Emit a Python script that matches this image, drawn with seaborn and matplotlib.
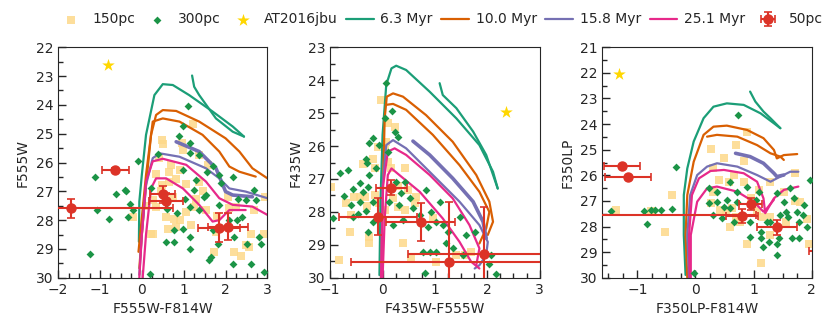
#!/usr/bin/env python3
"""CMDs of the AT2016jbu environment - three HST colour-magnitude panels"""
import matplotlib
matplotlib.use("Agg")
import numpy as np
import pandas as pd
import matplotlib.pyplot as plt
import seaborn as sns
from matplotlib.ticker import MultipleLocator

# ---- colours ----
c_150 = "#fdd98a"
c_300 = "#1b9446"
c_star = "#ffd700"
c_red = "#dc3327"
iso_pal = sns.color_palette("Dark2", 4)
ages = ["6.3 Myr", "10.0 Myr", "15.8 Myr", "25.1 Myr"]

# ---- panel 1: F555W-F814W vs F555W ----
p1_150_x = [0.49, 0.50, 0.96, 1.23, 0.70, 0.66, 0.90, 0.82, 1.06, 0.66, 0.34, 0.49, 1.36, 1.57,
            0.98, -0.21, 0.26, 0.34, 0.58, 0.78, 0.62, 0.82, 0.90, 0.22, 1.06, 1.25, 1.30, 1.18,
            1.53, 1.77, 1.73, 2.21, 2.37, 2.56, 2.60, 2.92, 2.68, 2.05, 2.25, 2.07, 1.37, 2.49,
            0.26, 0.45, 0.75, 0.40, 1.45, 2.95, 1.80, 0.10]
p1_150_y = [25.22, 25.37, 25.34, 24.65, 26.10, 26.33, 26.27, 26.56, 26.73, 26.67, 26.41, 26.79,
            25.75, 26.10, 25.57, 27.89, 27.31, 27.54, 27.89, 27.95, 28.30, 28.24, 28.00, 28.47,
            27.72, 27.54, 27.25, 28.18, 27.66, 28.41, 29.11, 29.11, 29.23, 28.93, 28.47, 28.47,
            27.66, 27.20, 27.54, 27.57, 26.67, 28.88, 28.47, 27.00, 27.20, 25.85, 27.00, 27.20,
            27.85, 27.50]
p1_300_x = [1.11, 0.98, 0.88, 1.16, 0.38, 1.15, 1.37, -0.10, 1.69, 0.98, 1.56, 1.85, 1.89, 2.17,
            -0.40, 0.22, 1.30, 1.49, 2.68, 2.29, 2.49, 2.72, -0.29, -0.20, 1.02, 1.14, 1.37, 1.53,
            1.25, 1.85, 2.09, 2.28, 0.78, 0.98, 1.14, 0.58, 0.78, 1.14, 1.65, 1.83, 2.21, 2.52,
            2.80, 2.84, 2.60, 2.92, 0.20, 1.61, -1.13, -0.61, -0.39, -1.07, -0.79, -0.33, -1.25,
            2.17, 0.60, 0.85, 1.70, 2.40]
p1_300_y = [24.03, 24.74, 25.09, 25.34, 25.69, 25.67, 25.75, 25.94, 26.12, 26.27, 26.33, 26.44,
            26.71, 26.50, 26.96, 26.90, 26.62, 27.20, 26.94, 27.25, 27.29, 27.31, 27.43, 27.66,
            27.25, 27.54, 27.66, 27.14, 26.96, 27.49, 28.00, 28.00, 28.36, 28.30, 28.59, 28.76,
            28.76, 28.99, 29.28, 28.82, 28.59, 28.82, 28.59, 28.82, 29.51, 29.81, 29.88, 29.40,
            26.50, 27.11, 26.99, 27.64, 27.97, 27.89, 29.17, 29.51, 27.60, 27.75, 28.35, 27.90]
p1_star = (-0.80, 22.60)
p1_red_x = [-1.70, -0.63, 0.50, 0.58, 1.85, 2.05]
p1_red_y = [27.59, 26.26, 27.10, 27.32, 28.26, 28.23]
p1_red_xe = [2.44, 0.32, 0.30, 0.40, 0.50, 0.48]
p1_red_ye = [0.32, 0.08, 0.29, 0.25, 0.49, 0.46]
p1_iso = [
    [[(-0.07, 28.75), (-0.06, 27.36), (0.0, 26.43), (0.10, 25.04), (0.30, 23.66), (0.50, 23.28),
      (0.74, 23.31), (1.13, 23.66), (1.69, 24.23), (2.17, 24.75), (2.44, 25.10)],
     [(2.44, 25.10), (2.17, 24.93), (1.77, 24.47), (1.37, 23.66), (1.25, 23.37), (1.20, 22.98)]],
    [[(-0.06, 29.67), (0.0, 28.50), (0.10, 26.78), (0.22, 25.04), (0.34, 24.35), (0.50, 24.18),
      (0.82, 24.21), (1.37, 24.58), (2.00, 25.16), (2.33, 25.62), (2.64, 26.20), (3.00, 26.55)],
     [(-0.08, 29.1), (0.10, 26.43), (0.26, 24.58), (0.50, 24.47), (0.90, 24.58), (1.45, 25.04),
      (1.85, 25.62), (2.09, 26.14), (2.33, 26.32), (2.72, 26.49)]],
    [[(-0.06, 29.90), (0.0, 28.50), (0.10, 26.78), (0.26, 25.85), (0.42, 25.68), (0.90, 25.80),
      (1.53, 26.20), (1.85, 26.55), (2.09, 26.90), (2.48, 27.01), (3.00, 27.24)],
     [(0.82, 25.28), (1.37, 25.62), (1.77, 26.20), (2.00, 27.01), (2.17, 27.13), (2.64, 27.19)]],
    [[(-0.06, 30.0), (0.0, 28.50), (0.10, 26.66), (0.26, 25.96), (0.50, 25.87), (1.06, 26.08),
      (1.53, 26.66), (1.85, 27.24), (2.17, 27.47), (2.64, 27.53), (3.00, 27.82)],
     [(0.02, 30.0), (0.10, 28.50), (0.22, 26.90), (0.34, 26.55), (0.58, 26.55), (0.98, 26.90),
      (1.37, 27.47), (1.69, 28.05), (1.85, 28.00), (2.09, 27.65), (2.48, 27.65)]],
]

# ---- panel 2: F435W-F555W vs F435W ----
p2_150_x = [-0.03, 0.10, 0.23, 0.07, -0.09, 0.04, 0.10, -0.18, -0.15, -0.38, 0.17, 0.42, -0.69,
            -0.54, -0.44, -0.34, -0.98, -0.30, -0.15, -0.06, 0.20, 0.29, 0.42, 0.61, 0.48, 0.64,
            0.96, -0.60, -0.63, -0.25, -0.25, 0.39, -0.83, 0.55, 1.03, 1.41, 1.57, 1.69, 0.30,
            0.05]
p2_150_y = [24.60, 25.31, 25.41, 25.87, 26.02, 26.12, 26.48, 26.39, 26.68, 26.56, 26.68, 26.68,
            27.74, 27.54, 27.54, 27.54, 27.24, 27.81, 27.49, 27.74, 27.59, 27.84, 27.94, 27.74,
            27.34, 27.54, 28.20, 28.10, 28.60, 28.75, 28.96, 28.96, 29.46, 29.41, 29.51, 29.31,
            29.31, 29.21, 27.20, 27.95]
p2_300_x = [0.07, 0.04, 0.18, 0.23, -0.18, -0.26, -0.06, 0.29, 0.10, -0.32, -0.30, -0.25, -0.12,
            -0.66, -0.81, -0.73, -0.57, -0.44, -0.38, -0.28, -0.18, -0.44, -0.60, -0.47, -0.31,
            -0.94, -0.57, -0.28, -0.18, 0.26, 0.42, 0.36, 0.13, 0.32, 0.52, 0.58, 0.20, 0.39,
            0.71, 0.87, 1.03, 1.15, 0.83, 1.09, 0.93, 1.25, 0.77, 0.90, 1.03, 1.22, 1.34, 1.54,
            1.60, 1.47, 1.76, 2.04, 2.07, 0.82, 2.17]
p2_300_y = [24.09, 25.16, 24.94, 25.58, 25.75, 25.92, 25.97, 25.72, 26.17, 26.39, 26.53, 26.88,
            26.68, 26.73, 26.83, 27.51, 27.29, 27.13, 27.39, 27.23, 27.69, 27.69, 27.79, 28.05,
            27.98, 28.18, 28.15, 28.60, 28.30, 27.08, 27.08, 27.44, 27.69, 27.79, 27.59, 27.89,
            28.40, 28.25, 28.10, 28.45, 28.30, 28.40, 27.34, 27.69, 27.99, 28.60, 29.21, 29.21,
            29.21, 28.96, 29.11, 29.31, 28.70, 28.15, 28.60, 29.57, 29.31, 29.87, 29.90]
p2_star = (2.36, 24.96)
p2_red_x = [0.17, -0.09, 0.73, 1.27, 1.93]
p2_red_y = [27.26, 28.15, 28.30, 29.51, 29.28]
p2_red_xe = [0.29, 0.75, 0.66, 1.88, 1.45]
p2_red_ye = [0.22, 0.56, 0.58, 1.80, 1.42]
p2_iso = [
    [[(-0.06, 29.92), (-0.04, 27.69), (0.0, 25.66), (0.07, 24.14), (0.17, 23.64), (0.26, 23.56),
      (0.45, 23.69), (0.90, 24.35), (1.41, 25.16), (1.85, 25.97), (2.11, 26.78), (2.20, 27.29)],
     [(1.09, 24.09), (1.15, 24.45), (1.41, 24.85), (1.73, 25.56), (1.98, 26.27), (2.20, 27.29)]],
    [[(-0.03, 30.0), (0.0, 27.69), (0.04, 25.16), (0.08, 24.50), (0.20, 24.40), (0.39, 24.50),
      (0.83, 25.06), (1.34, 25.87), (1.79, 26.88), (2.04, 27.69), (2.11, 28.30), (2.01, 28.70)],
     [(0.06, 24.75), (0.20, 24.72), (0.45, 24.90), (0.96, 25.66), (1.47, 26.58), (1.85, 27.39),
      (2.04, 28.00), (1.98, 28.50), (1.85, 28.96)]],
    [[(-0.03, 30.0), (0.0, 27.18), (0.07, 25.97), (0.20, 25.82), (0.45, 26.07), (0.96, 26.88),
      (1.47, 27.69), (1.85, 28.40), (2.01, 28.91), (1.98, 29.31), (1.85, 29.62), (1.76, 29.72)],
     [(0.58, 25.85), (0.90, 26.27), (1.34, 26.98), (1.73, 27.69), (1.92, 28.30), (1.98, 28.80)]],
    [[(-0.03, 30.0), (0.01, 27.2), (0.10, 26.17), (0.23, 26.07), (0.45, 26.27), (0.90, 26.88),
      (1.34, 27.59), (1.66, 28.40), (1.85, 29.11), (1.79, 29.62)],
     [(0.0, 30.0), (0.04, 28.20), (0.10, 26.88), (0.17, 26.68), (0.32, 26.88), (0.71, 27.39),
      (1.15, 28.20), (1.47, 28.91), (1.69, 29.51), (1.85, 29.72)]],
]

# ---- panel 3: F350LP-F814W vs F350LP ----
p3_150_x = [0.89, 0.69, 0.26, 0.49, 0.83, 0.31, 0.66, 0.57, 0.83, 1.09, 1.72, 1.29, 1.52, 0.31,
            0.26, 0.43, 0.53, 0.63, 0.69, 0.77, 1.06, 1.14, 1.29, 1.55, 1.72, 1.92, 1.95, -0.40,
            -0.76, -1.37, -0.52, 0.60, 0.89, 1.12, 1.29, 0.40, 0.95, 1.80]
p3_150_y = [24.29, 24.82, 24.97, 25.34, 25.44, 25.73, 25.99, 26.25, 26.25, 26.57, 25.92, 26.25,
            26.64, 26.64, 27.09, 27.35, 27.42, 27.29, 27.61, 27.81, 27.39, 27.61, 27.61, 27.81,
            27.00, 27.72, 28.68, 26.77, 27.38, 27.35, 28.20, 28.00, 28.68, 29.44, 28.33, 26.20,
            26.90, 27.05]
p3_300_x = [0.74, -0.33, 0.23, 0.37, 0.60, 0.72, 0.89, 1.09, 1.40, 1.63, 1.97, 1.52, 1.69, 1.86,
            1.75, 1.55, 1.60, 1.78, 1.92, 1.46, 1.29, 0.37, 0.49, 0.60, 0.72, 0.31, 0.46, 0.66,
            0.94, 1.12, 1.23, 0.94, 1.12, 1.26, 1.40, 1.43, 1.66, 1.78, 1.17, 1.40, -0.88, -0.77,
            -0.69, -0.60, -0.41, -0.83, -1.45, -0.03, 0.23, 1.05, 0.55, 1.85]
p3_300_y = [23.64, 25.69, 26.51, 26.64, 26.25, 26.64, 26.44, 26.64, 26.70, 26.51, 26.18, 27.03,
            26.90, 27.16, 27.42, 27.42, 27.61, 27.81, 28.00, 27.55, 27.81, 27.03, 27.22, 27.29,
            27.03, 27.55, 27.65, 27.81, 27.81, 28.20, 27.81, 28.40, 28.46, 28.59, 28.69, 28.46,
            28.46, 28.46, 28.79, 29.11, 27.38, 27.35, 27.35, 27.35, 27.32, 27.91, 27.38, 29.83,
            27.09, 26.95, 26.95, 27.55]
p3_star = (-1.31, 22.05)
p3_red_x = [-1.26, -1.16, 0.95, 0.80, 1.40, -3.00, 2.40]
p3_red_y = [25.64, 26.08, 27.13, 27.60, 28.03, 27.55, 28.96]
p3_red_xe = [0.31, 0.40, 0.20, 0.27, 0.34, 4.05, 0.45]
p3_red_ye = [0.05, 0.05, 0.23, 0.27, 0.30, 0.30, 0.10]
p3_iso = [
    [[(-0.17, 29.89), (-0.20, 28.33), (-0.20, 26.77), (-0.14, 25.73), (-0.03, 24.68), (0.14, 23.77),
      (0.31, 23.32), (0.54, 23.19), (0.83, 23.25), (1.12, 23.58), (1.35, 23.97), (1.46, 24.16)],
     [(1.46, 24.16), (1.29, 23.77), (1.17, 23.51), (1.03, 23.12), (0.94, 22.73)]],
    [[(-0.14, 30.0), (-0.17, 28.33), (-0.14, 26.77), (-0.03, 25.47), (0.14, 24.42), (0.31, 24.10),
      (0.54, 24.06), (0.89, 24.23), (1.17, 24.55), (1.35, 25.01), (1.40, 25.34), (1.52, 25.21),
      (1.75, 25.17)],
     [(0.20, 24.49), (0.37, 24.42), (0.72, 24.49), (1.06, 24.82), (1.29, 25.14), (1.46, 25.27),
      (1.52, 25.40)]],
    [[(-0.11, 30.0), (-0.14, 28.33), (-0.09, 26.77), (0.03, 25.99), (0.20, 25.66), (0.37, 25.53),
      (0.72, 25.66), (1.06, 25.99), (1.29, 26.25), (1.40, 26.12), (1.63, 25.86), (1.77, 25.86)],
     [(0.69, 25.14), (0.94, 25.27), (1.17, 25.53), (1.35, 25.92), (1.40, 26.05), (1.52, 25.99)]],
    [[(-0.10, 30.0), (-0.11, 28.33), (-0.06, 26.77), (0.06, 26.12), (0.26, 25.83), (0.49, 25.79),
      (0.83, 25.92), (1.06, 26.25), (1.17, 26.90), (1.20, 27.48), (1.35, 26.90), (1.52, 26.57),
      (1.77, 26.44)],
     [(-0.08, 30.0), (-0.08, 28.33), (0.03, 27.03), (0.20, 26.51), (0.37, 26.44), (0.72, 26.64),
      (1.00, 27.03), (1.17, 27.42), (1.23, 27.29), (1.35, 26.95)]],
]


def draw_panel(ax, sq_x, sq_y, dm_x, dm_y, star, isos, rx, ry, rxe, rye, xlim, ylim, xlabel, ylabel):
    sns.scatterplot(x=sq_x, y=sq_y, marker="s", s=30, color=c_150, alpha=0.85, linewidth=0,
                    label="150pc", ax=ax, zorder=1)
    sns.scatterplot(x=dm_x, y=dm_y, marker="D", s=16, color=c_300, linewidth=0,
                    label="300pc", ax=ax, zorder=3)
    sns.scatterplot(x=[star[0]], y=[star[1]], marker="*", s=90, color=c_star, linewidth=0,
                    label="AT2016jbu", ax=ax, zorder=3)
    for i, lines in enumerate(isos):
        for j, pts in enumerate(lines):
            df = pd.DataFrame(pts, columns=["col", "mag"])
            lw = 2.6 if (i == 2 and j == 1) else 1.6
            sns.lineplot(data=df, x="col", y="mag", sort=False, estimator=None, color=iso_pal[i],
                         lw=lw, label=ages[i] if j == 0 else None, ax=ax, zorder=2)
    ax.errorbar(rx, ry, xerr=rxe, yerr=rye, fmt="o", color=c_red, ms=6.5, elinewidth=1.5,
                capsize=3, capthick=1.2, label="50pc", zorder=4)
    if ax.get_legend() is not None:
        ax.get_legend().remove()
    ax.set_xlim(*xlim)
    ax.set_ylim(*ylim)
    ax.set_xlabel(xlabel, fontsize=10)
    ax.set_ylabel(ylabel, fontsize=10)
    ax.xaxis.set_major_locator(MultipleLocator(1))
    ax.xaxis.set_minor_locator(MultipleLocator(0.25))
    ax.yaxis.set_major_locator(MultipleLocator(1))
    ax.yaxis.set_minor_locator(MultipleLocator(0.5))
    ax.tick_params(which="both", direction="in", labelsize=10)
    ax.tick_params(which="major", length=6, width=1)
    ax.tick_params(which="minor", length=3.5, width=1)


sns.set_style("ticks")
plt.rcParams["font.family"] = ["DejaVu Sans"]

fig, axes = plt.subplots(1, 3, figsize=(8.3, 3.33), dpi=100)
fig.subplots_adjust(left=0.070, right=0.978, bottom=0.166, top=0.858, wspace=0.30)

draw_panel(axes[0], p1_150_x, p1_150_y, p1_300_x, p1_300_y, p1_star, p1_iso,
           p1_red_x, p1_red_y, p1_red_xe, p1_red_ye, (-2, 3), (30, 22), "F555W-F814W", "F555W")
draw_panel(axes[1], p2_150_x, p2_150_y, p2_300_x, p2_300_y, p2_star, p2_iso,
           p2_red_x, p2_red_y, p2_red_xe, p2_red_ye, (-1, 3), (30, 23), "F435W-F555W", "F435W")
draw_panel(axes[2], p3_150_x, p3_150_y, p3_300_x, p3_300_y, p3_star, p3_iso,
           p3_red_x, p3_red_y, p3_red_xe, p3_red_ye, (-1.6, 2), (30, 21), "F350LP-F814W", "F350LP")

handles, labels = axes[0].get_legend_handles_labels()
fig.legend(handles, labels, loc="upper center", bbox_to_anchor=(0.53, 1.0), ncol=8,
           frameon=False, fontsize=10, handletextpad=0.5, columnspacing=0.6, handlelength=2.0)

fig.savefig("out.png", dpi=100)
plt.close(fig)
